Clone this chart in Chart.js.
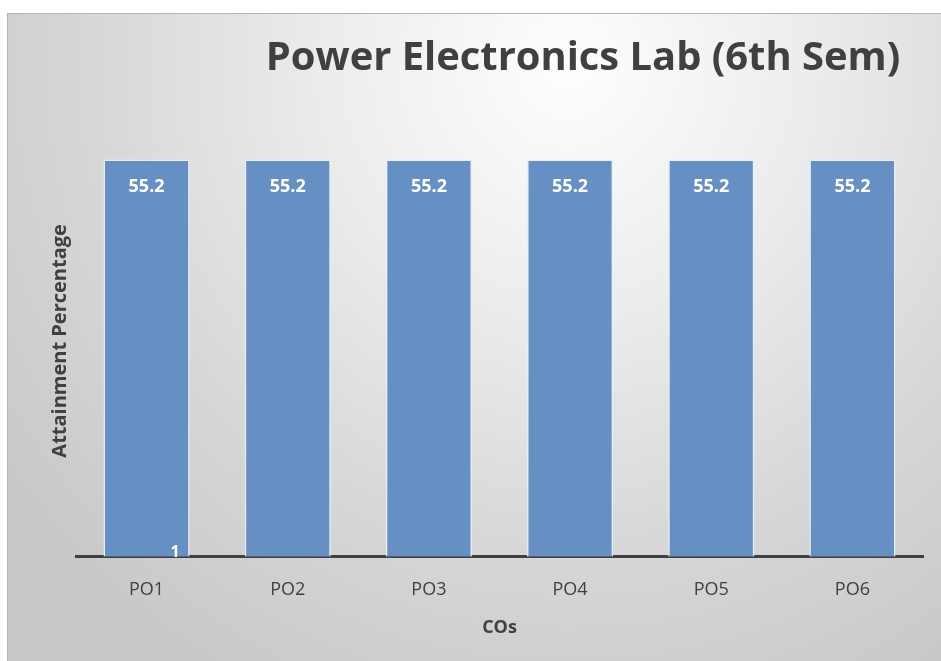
<!DOCTYPE html>
<html>
<head>
<meta charset="utf-8">
<script src="https://cdn.jsdelivr.net/npm/chart.js@4.4.1/dist/chart.umd.min.js"></script>
<style>
  html, body { margin: 0; padding: 0; background: #ffffff; }
  #wrap {
    position: absolute; left: 7px; top: 13px; width: 934px; height: 648px;
    border-top: 1px solid #b4b4b4; border-left: 1px solid #b4b4b4;
    box-sizing: border-box;
    background: radial-gradient(ellipse 75% 110% at 60% 8%, #fefefe 0%, #ececec 35%, #d6d6d6 70%, #c8c8c8 100%);
  }
  canvas { display: block; }
</style>
</head>
<body>
<div id="wrap"><canvas id="c" width="933" height="647"></canvas></div>
<script>
const categories = ['PO1', 'PO2', 'PO3', 'PO4', 'PO5', 'PO6'];
const attainment = [55.2, 55.2, 55.2, 55.2, 55.2, 55.2];
const strayLabels = ['1', '', '', '', '', ''];
const titleText = 'Power Electronics Lab (6th Sem)';
const xTitle = 'COs';
const yTitle = 'Attainment Percentage';
const yMax = 60;

const FONT = "'Open Sans', 'Noto Sans', sans-serif";

const labelPlugin = {
  id: 'labels',
  afterDatasetsDraw(chart) {
    const ctx = chart.ctx;
    const meta = chart.getDatasetMeta(0);
    ctx.save();
    ctx.fillStyle = '#ffffff';
    ctx.textAlign = 'center';
    ctx.textBaseline = 'middle';
    meta.data.forEach((bar, i) => {
      ctx.font = 'bold 18px ' + FONT;
      ctx.fillText(String(attainment[i]), bar.x, bar.y + 27);
      if (strayLabels[i]) {
        ctx.font = 'bold 16px ' + FONT;
        ctx.fillText(strayLabels[i], bar.x + bar.width * 0.33, bar.base - 4);
      }
    });
    ctx.restore();
  }
};

const titlePlugin = {
  id: 'customTitle',
  afterDraw(chart) {
    const ctx = chart.ctx;
    ctx.save();
    ctx.fillStyle = '#404040';
    ctx.textAlign = 'center';
    ctx.textBaseline = 'middle';
    ctx.font = 'bold 36px ' + FONT;
    const w = ctx.measureText(titleText).width;
    const size = 36 * 635 / w;
    ctx.font = 'bold ' + size.toFixed(1) + 'px ' + FONT;
    ctx.fillText(titleText, 575, 45);
    ctx.restore();
  }
};

new Chart(document.getElementById('c'), {
  type: 'bar',
  data: {
    labels: categories,
    datasets: [{
      data: attainment,
      backgroundColor: '#6690c4',
      borderColor: 'rgba(230,238,248,0.95)',
      borderWidth: 1.5,
      borderSkipped: 'bottom',
      barPercentage: 0.61,
      categoryPercentage: 1.0
    }]
  },
  options: {
    responsive: false,
    animation: false,
    layout: { padding: { top: 111, right: 18, left: 40, bottom: 18 } },
    plugins: { legend: { display: false }, tooltip: { enabled: false }, title: { display: false } },
    scales: {
      x: {
        grid: { display: false },
        border: { display: true, color: '#404040', width: 3 },
        ticks: { color: '#404040', font: { family: FONT, size: 18 }, padding: 14 },
        title: { display: true, text: xTitle, color: '#404040', font: { family: FONT, size: 18, weight: 'bold' }, padding: { top: 3 } }
      },
      y: {
        min: 0, max: yMax,
        grid: { display: false },
        border: { display: false },
        ticks: { display: false },
        title: { display: true, text: yTitle, color: '#404040', font: { family: FONT, size: 20, weight: 'bold' }, padding: 0 },
        afterFit(scale) { scale.width = 28; }
      }
    }
  },
  plugins: [labelPlugin, titlePlugin]
});
</script>
</body>
</html>
